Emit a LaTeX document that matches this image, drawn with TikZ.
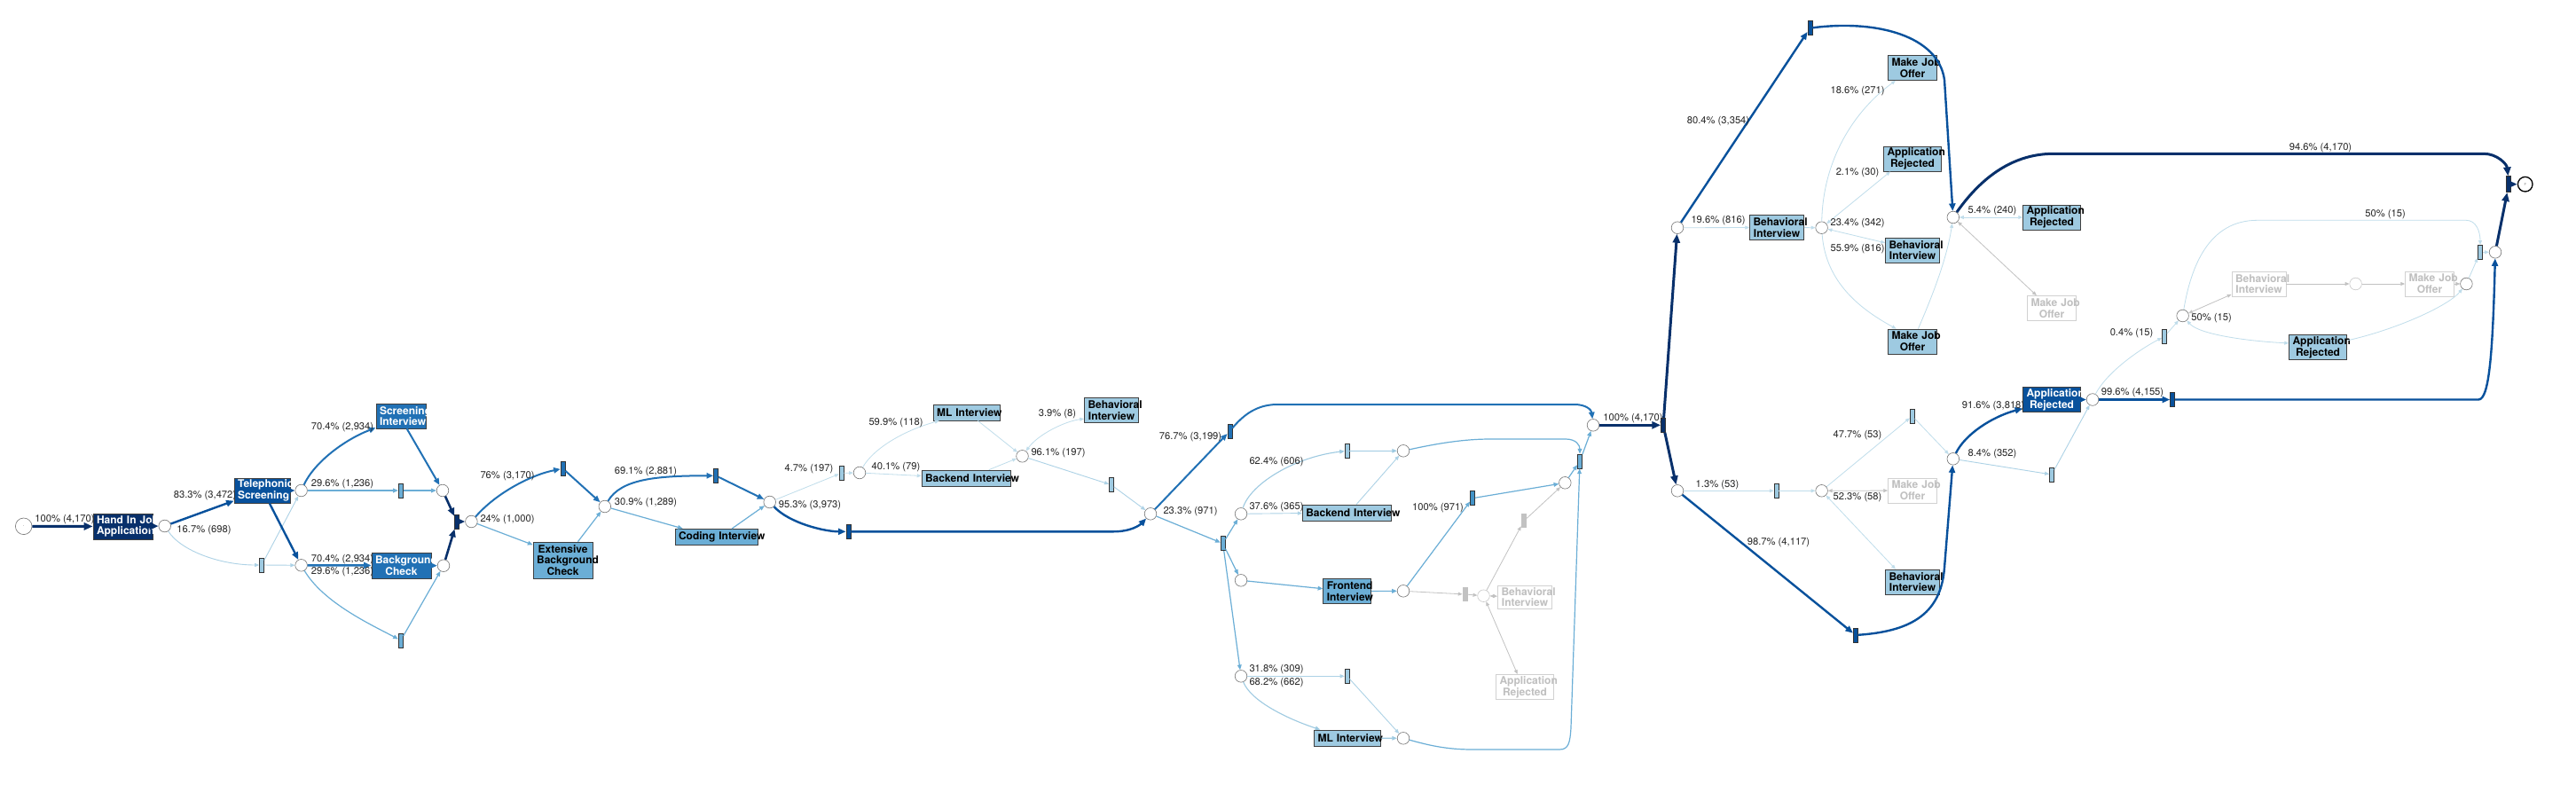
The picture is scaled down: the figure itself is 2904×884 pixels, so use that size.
\documentclass[tikz,border=0pt]{standalone}
\usepackage{fontspec}
\newfontfamily\hv{TeX Gyre Heros}
\usetikzlibrary{arrows.meta}
\hyphenpenalty=10000 \exhyphenpenalty=10000
\definecolor{c1}{HTML}{08306B}
\definecolor{c2}{HTML}{08519C}
\definecolor{c3}{HTML}{2171B5}
\definecolor{c4}{HTML}{4292C6}
\definecolor{c5}{HTML}{6BAED6}
\definecolor{c6}{HTML}{9ECAE1}
\definecolor{cg}{HTML}{C2C2C2}
\begin{document}
\begin{tikzpicture}[x=1pt,y=-1pt,>={Triangle[length=3pt 2.3,width=2.4pt 1.9]},
 place/.style={circle,draw=black!55,fill=white,line width=0.6pt,minimum size=13.6pt,inner sep=0pt},
 gplace/.style={place,draw=black!22},
 tr/.style={rectangle,draw=black!80,line width=0.7pt,minimum width=5pt,minimum height=16pt,inner sep=0pt},
 gtr/.style={rectangle,draw=none,fill=cg,minimum width=6pt,minimum height=16pt,inner sep=0pt},
 act/.style 2 args={rectangle,draw=black!75,line width=0.8pt,inner xsep=4pt,inner ysep=0pt,text width=#1,minimum height=#2,align=center,font=\hv\bfseries\fontsize{12}{12.7}\selectfont},
 dk/.style={text=white},
 gact/.style={draw=black!18,text=black!25,fill=white},
 lbl/.style={font=\hv\fontsize{11.2}{12}\selectfont,text=black!85,inner sep=0pt},
 e1/.style={->,draw=c1,line width=3pt},
 e2/.style={->,draw=c2,line width=2.4pt},
 e3/.style={->,draw=c3,line width=2pt},
 e4/.style={->,draw=c5,line width=1.2pt},
 e5/.style={->,draw=c6,line width=1.1pt},
 e6/.style={->,draw=c6!85,line width=0.9pt},
 e7/.style={->,draw=c6!65,line width=0.8pt},
 eg/.style={->,draw=cg,line width=0.8pt}]
\useasboundingbox (0,0) rectangle (2904,884);
\fill[white] (0,0) rectangle (2904,884);

% ---------- places ----------
\node[place,minimum size=18.6pt] (start) at (26.7,593.3) {\fontsize{5}{5}\selectfont$\cdot$};
\node[place,minimum size=16.6pt,draw=black,line width=1.3pt] (end) at (2846.7,207.7) {\hv\fontsize{4}{4}\selectfont\color{black!50}F};
\node[place] (p1) at (185.7,593) {};
\node[place] (p2) at (339.6,553) {};
\node[place] (p3) at (339.6,637.3) {};
\node[place] (p4) at (499,553) {};
\node[place] (p5) at (500,637.7) {};
\node[place] (p6) at (531.4,588) {};
\node[place] (p7) at (681.8,571) {};
\node[place] (p8) at (867.7,566) {};
\node[place] (p9) at (969,533) {};
\node[place] (p10) at (1152.5,514.3) {};
\node[place] (p11) at (1297,579.3) {};
\node[place] (p12) at (1399,579.3) {};
\node[place] (p13) at (1582,508.3) {};
\node[place] (p14) at (1399,654.3) {};
\node[place] (p15) at (1582,666.3) {};
\node[place] (p16) at (1764.3,544.3) {};
\node[gplace] (p17) at (1672.5,671.7) {};
\node[place] (p18) at (1399,762.3) {};
\node[place] (p19) at (1582,832.3) {};
\node[place] (pj) at (1796,479.3) {};
\node[place] (p20) at (1891,256.7) {};
\node[place] (p21) at (1891,553.3) {};
\node[place] (p22) at (2201.8,245) {};
\node[place] (p23) at (2053.6,256.7) {};
\node[place] (p29) at (2053.6,553.3) {};
\node[place] (p30) at (2201.8,517.3) {};
\node[place] (p28) at (2359,450.5) {};
\node[place] (p25) at (2460.6,356) {};
\node[gplace] (p26) at (2655.6,320) {};
\node[place] (p27) at (2780.4,320) {};
\node[place] (p24) at (2813,284.3) {};

% ---------- transitions ----------
\node[tr,fill=c6] (t1) at (295,637) {};
\node[tr,fill=c5] (t2) at (451.8,553) {};
\node[tr,fill=c5] (t3) at (451.8,722) {};
\node[tr,fill=c1] (t4) at (515,588) {};
\node[tr,fill=c3] (t5) at (634.6,528.3) {};
\node[tr,fill=c3] (t6) at (807,536.3) {};
\node[tr,fill=c6] (t7) at (948.6,533.3) {};
\node[tr,fill=c2] (t9) at (956.4,599.3) {};
\node[tr,fill=c6] (t8) at (1252.9,546.7) {};
\node[tr,fill=c3] (t10) at (1386.4,486) {};
\node[tr,fill=c5] (t11) at (1378.6,612.7) {};
\node[tr,fill=c6] (t12) at (1518.6,508.3) {};
\node[tr,fill=c4] (t13) at (1660,561.7) {};
\node[gtr] (t14) at (1717.9,587.3) {};
\node[gtr] (t15) at (1651.8,670) {};
\node[tr,fill=c5] (t16) at (1781,520) {};
\node[tr,fill=c6] (t17) at (1518.6,762.3) {};
\node[tr,fill=c1] (ts) at (1875,479.3) {};
\node[tr,fill=c2] (t18) at (2040.4,31.7) {};
\node[tr,fill=c6] (t23) at (2002.5,553.3) {};
\node[tr,fill=c6] (t24) at (2155.7,469) {};
\node[tr,fill=c6] (t25) at (2313,535) {};
\node[tr,fill=c2] (t26) at (2091.8,716) {};
\node[tr,fill=c6] (t21) at (2440,379.3) {};
\node[tr,fill=c2] (t22) at (2449,450.5) {};
\node[tr,fill=c6] (t20) at (2796,284.3) {};
\node[tr,fill=c1,minimum height=18pt] (t19) at (2828.3,207.7) {};

% ---------- activities ----------
\node[act={59pt}{29pt},fill=c1,dk] (hand) at (138.5,593.5) {Hand~In~Job\\Application};
\node[act={55pt}{28pt},fill=c2,dk] (tel) at (295.5,553) {Telephonic\\Screening};
\node[act={48pt}{28pt},fill=c3,dk] (scr) at (452,469) {Screening\\Interview};
\node[act={59pt}{29pt},fill=c3,dk] (bgc) at (452.5,637.5) {Background\\Check};
\node[act={59pt}{41pt},fill=c5] (ebc) at (634.6,631.5) {Extensive\\Background\\Check};
\node[act={85pt}{18pt},fill=c5] (cod) at (807.5,605.3) {Coding~Interview};
\node[act={67pt}{18pt},fill=c6] (ml1) at (1089.5,465) {ML~Interview};
\node[act={92pt}{18pt},fill=c6] (be1) at (1089,539) {Backend~Interview};
\node[act={53pt}{28pt},fill=c6] (bh1) at (1253,462.7) {Behavioral\\Interview};
\node[act={92pt}{18pt},fill=c6] (be2) at (1518.3,578) {Backend~Interview};
\node[act={46pt}{28pt},fill=c5] (fe) at (1518.8,666.5) {Frontend\\Interview};
\node[act={67pt}{18pt},fill=c6] (ml2) at (1519,832) {ML~Interview};
\node[act={53pt}{26pt},gact] (bhg1) at (1719,673) {Behavioral\\Interview};
\node[act={57pt}{28pt},gact] (arg1) at (1719,774.5) {Application\\Rejected};
\node[act={53pt}{28pt},fill=c6] (bh2) at (2003,256.5) {Behavioral\\Interview};
\node[act={47pt}{28pt},fill=c6] (mjo1) at (2156,76.5) {Make~Job\\Offer};
\node[act={57pt}{28pt},fill=c6] (ar1) at (2156,179) {Application\\Rejected};
\node[act={53pt}{28pt},fill=c6] (bh3) at (2156,282) {Behavioral\\Interview};
\node[act={47pt}{28pt},fill=c6] (mjo2) at (2156,385) {Make~Job\\Offer};
\node[act={57pt}{28pt},fill=c6] (ar2) at (2313,245) {Application\\Rejected};
\node[act={47pt}{28pt},gact] (mjog1) at (2313,347.5) {Make~Job\\Offer};
\node[act={47pt}{28pt},gact] (mjog2) at (2156,553) {Make~Job\\Offer};
\node[act={53pt}{28pt},fill=c6] (bh4) at (2156,656) {Behavioral\\Interview};
\node[act={57pt}{28pt},fill=c2,dk] (ard) at (2313,450.5) {Application\\Rejected};
\node[act={53pt}{28pt},gact] (bhg2) at (2546.5,320) {Behavioral\\Interview};
\node[act={47pt}{28pt},gact] (mjog3) at (2739,320) {Make~Job\\Offer};
\node[act={57pt}{28pt},fill=c6] (ar3) at (2613,391.5) {Application\\Rejected};

% ---------- arcs ----------
\draw[e1] (start) -- (hand);
\draw[e1] (hand) -- (p1);
\draw[e2] (p1) -- (tel.200);
\draw[e6] (p1) .. controls (205,622) and (250,637) .. (t1);
\draw[e6] (t1) -- (p2);
\draw[e6] (t1) -- (p3);
\draw[e2] (tel) -- (p2);
\draw[e2] (tel.-60) -- (p3);
\draw[e3] (p2) .. controls (355,520) and (390,495) .. (scr.205);
\draw[e4] (p2) -- (t2);
\draw[e4] (t2) -- (p4);
\draw[e3] (scr.-65) -- (p4);
\draw[e3,line width=2.4pt] (p3) -- (bgc);
\draw[e4] (p3) .. controls (365,680) and (420,705) .. (t3);
\draw[e3] (bgc) -- (p5);
\draw[e4] (t3) -- (p5);
\draw[e1,line width=2.6pt] (p4) -- (t4);
\draw[e1,line width=2.6pt] (p5) -- (t4);
\draw[e1,line width=2.6pt] (t4) -- (p6);
\draw[e3] (p6) .. controls (560,555) and (600,535) .. (t5);
\draw[e4] (p6) -- (ebc.153);
\draw[e3] (t5) -- (p7);
\draw[e4] (ebc.51) -- (p7);
\draw[e3] (p7) .. controls (700,540) and (740,536.3) .. (t6);
\draw[e4] (p7) -- (cod.166);
\draw[e3] (t6) -- (p8);
\draw[e4] (cod.28) -- (p8);
\draw[e7] (p8) -- (t7);
\draw[e2] (p8) .. controls (890,590) and (930,599.3) .. (t9);
\draw[e2] (t9) -- (1255,599.3) .. controls (1275,599.3) and (1285,592) .. (p11);
\draw[e7] (t7) -- (p9);
\draw[e7] (p9) .. controls (985,505) and (1020,485) .. (ml1.197);
\draw[e7] (p9) -- (be1);
\draw[e7] (ml1.-36) -- (p10);
\draw[e7] (be1.20) -- (p10);
\draw[e7,<->] (p10) .. controls (1170,490) and (1200,475) .. (bh1.197);
\draw[e6] (p10) -- (t8);
\draw[e6] (t8) -- (p11);
\draw[e3] (p11) -- (t10);
\draw[e4] (p11) -- (t11);
\draw[e3] (t10) .. controls (1400,470) and (1415,456) .. (1440,456) -- (1775,456) .. controls (1788,456) and (1794,462) .. (pj);
\draw[e4] (t11) -- (p12);
\draw[e4] (t11) -- (p14);
\draw[e4] (t11) -- (p18);
\draw[e5] (p12) .. controls (1410,545) and (1460,515) .. (t12);
\draw[e6] (p12) -- (be2);
\draw[e5] (t12) -- (p13);
\draw[e6] (be2.41) -- (p13);
\draw[e4] (p13) .. controls (1620,500) and (1650,495) .. (1680,495) -- (1765,495) .. controls (1777,495) and (1781,502) .. (t16);
\draw[e4] (p14) -- (fe);
\draw[e4] (fe) -- (p15);
\draw[e4] (p15) -- (t13);
\draw[e4] (t13) -- (p16);
\draw[e4] (p16) -- (t16);
\draw[e4] (t16) -- (pj);
\draw[eg] (p15) -- (t15);
\draw[eg] (t15) -- (p17);
\draw[eg,<->] (p17) -- (bhg1);
\draw[eg] (p17) -- (t14);
\draw[eg] (t14) -- (p16);
\draw[eg,<->] (p17) -- (arg1.120);
\draw[e6] (p18) -- (t17);
\draw[e5] (p18) .. controls (1410,790) and (1450,810) .. (ml2.163);
\draw[e6] (t17) -- (p19);
\draw[e5] (ml2) -- (p19);
\draw[e4] (p19) .. controls (1610,840) and (1630,845) .. (1660,845) -- (1758,845) .. controls (1768,845) and (1770,838) .. (1771,820) -- (t16);
\draw[e1] (pj) -- (ts);
\draw[e1] (ts) -- (p20);
\draw[e1] (ts) -- (p21);
\draw[e2] (p20) -- (t18);
\draw[e7] (p20) -- (bh2);
\draw[e2] (t18) .. controls (2115,22) and (2185,40) .. (2192,90) -- (p22);
\draw[e7] (bh2) -- (p23);
\draw[e7] (p23) .. controls (2055,180) and (2090,125) .. (mjo1.217);
\draw[e7,<->] (p23) -- (ar1.210);
\draw[e7,<->] (p23) -- (bh3.165);
\draw[e7] (p23) .. controls (2058,320) and (2100,350) .. (mjo2.142);
\draw[e7] (mjo2.66) .. controls (2180,330) and (2195,290) .. (p22);
\draw[e7,<->] (p22) -- (ar2);
\draw[eg,<->] (p22) -- (mjog1.140);
\draw[e1] (p22) .. controls (2230,205) and (2265,173.3) .. (2315,173.3) -- (2800,173.3) .. controls (2815,173.3) and (2826,185) .. (t19);
\draw[e7] (p21) -- (t23);
\draw[e2] (p21) -- (t26);
\draw[e7] (t23) -- (p29);
\draw[e7] (p29) -- (t24);
\draw[eg,<->] (p29) -- (mjog2);
\draw[e7,<->] (p29) -- (bh4.143);
\draw[e7] (t24) -- (p30);
\draw[e2] (t26) .. controls (2150,712) and (2188,695) .. (2192,640) -- (p30);
\draw[e2] (p30) .. controls (2215,490) and (2245,470) .. (ard.197);
\draw[e6] (p30) -- (t25);
\draw[e6] (t25) -- (p28);
\draw[e2] (ard) -- (p28);
\draw[e2] (p28) -- (t22);
\draw[e7] (p28) .. controls (2375,420) and (2410,395) .. (t21);
\draw[e2] (t22) -- (2794,450.5) .. controls (2806,450.5) and (2810,400) .. (p24);
\draw[e7] (t21) -- (p25);
\draw[e7] (p25) .. controls (2470,300) and (2490,248.3) .. (2545,248.3) -- (2780,248.3) .. controls (2792,248.3) and (2796,262) .. (t20);
\draw[e7,<->] (p25) .. controls (2480,378) and (2540,385) .. (ar3.172);
\draw[e7] (ar3.13) .. controls (2700,372) and (2760,345) .. (p27);
\draw[eg,<->] (p25) -- (bhg2.201);
\draw[eg] (bhg2) -- (p26);
\draw[eg] (p26) -- (mjog3);
\draw[eg] (mjog3) -- (p27);
\draw[e7] (p27) -- (t20);
\draw[e7] (t20) -- (p24);
\draw[e1] (p24) -- (t19);
\draw[e1] (t19) -- (end);

% ---------- labels ----------
\node[lbl] at (73,586) {100\% (4,170)};
\node[lbl] at (231,559) {83.3\% (3,472)};
\node[lbl] at (230,598) {16.7\% (698)};
\node[lbl] at (386,482) {70.4\% (2,934)};
\node[lbl] at (386,546) {29.6\% (1,236)};
\node[lbl] at (386,631) {70.4\% (2,934)};
\node[lbl] at (386,645) {29.6\% (1,236)};
\node[lbl] at (572,537) {76\% (3,170)};
\node[lbl] at (572,586) {24\% (1,000)};
\node[lbl] at (728,532) {69.1\% (2,881)};
\node[lbl] at (728,567) {30.9\% (1,289)};
\node[lbl] at (912,529) {4.7\% (197)};
\node[lbl] at (913,570) {95.3\% (3,973)};
\node[lbl] at (1010,477) {59.9\% (118)};
\node[lbl] at (1010,527) {40.1\% (79)};
\node[lbl] at (1192,467) {3.9\% (8)};
\node[lbl] at (1193,511) {96.1\% (197)};
\node[lbl] at (1342,493) {76.7\% (3,199)};
\node[lbl] at (1342,577) {23.3\% (971)};
\node[lbl] at (1439,521) {62.4\% (606)};
\node[lbl] at (1439,572) {37.6\% (365)};
\node[lbl] at (1621,573) {100\% (971)};
\node[lbl] at (1439,755) {31.8\% (309)};
\node[lbl] at (1439,770) {68.2\% (662)};
\node[lbl] at (1841,472) {100\% (4,170)};
\node[lbl] at (1937,137) {80.4\% (3,354)};
\node[lbl] at (1937,249) {19.6\% (816)};
\node[lbl] at (2094,103) {18.6\% (271)};
\node[lbl] at (2094,195) {2.1\% (30)};
\node[lbl] at (2094,252) {23.4\% (342)};
\node[lbl] at (2094,281) {55.9\% (816)};
\node[lbl] at (2246,238) {5.4\% (240)};
\node[lbl] at (2616,167) {94.6\% (4,170)};
\node[lbl] at (2689,242) {50\% (15)};
\node[lbl] at (2493,359) {50\% (15)};
\node[lbl] at (2403,376) {0.4\% (15)};
\node[lbl] at (2404,443) {99.6\% (4,155)};
\node[lbl] at (1936,547) {1.3\% (53)};
\node[lbl] at (2094,491) {47.7\% (53)};
\node[lbl] at (2094,561) {52.3\% (58)};
\node[lbl] at (2005,612) {98.7\% (4,117)};
\node[lbl] at (2247,458) {91.6\% (3,818)};
\node[lbl] at (2246,512) {8.4\% (352)};
\end{tikzpicture}
\end{document}
